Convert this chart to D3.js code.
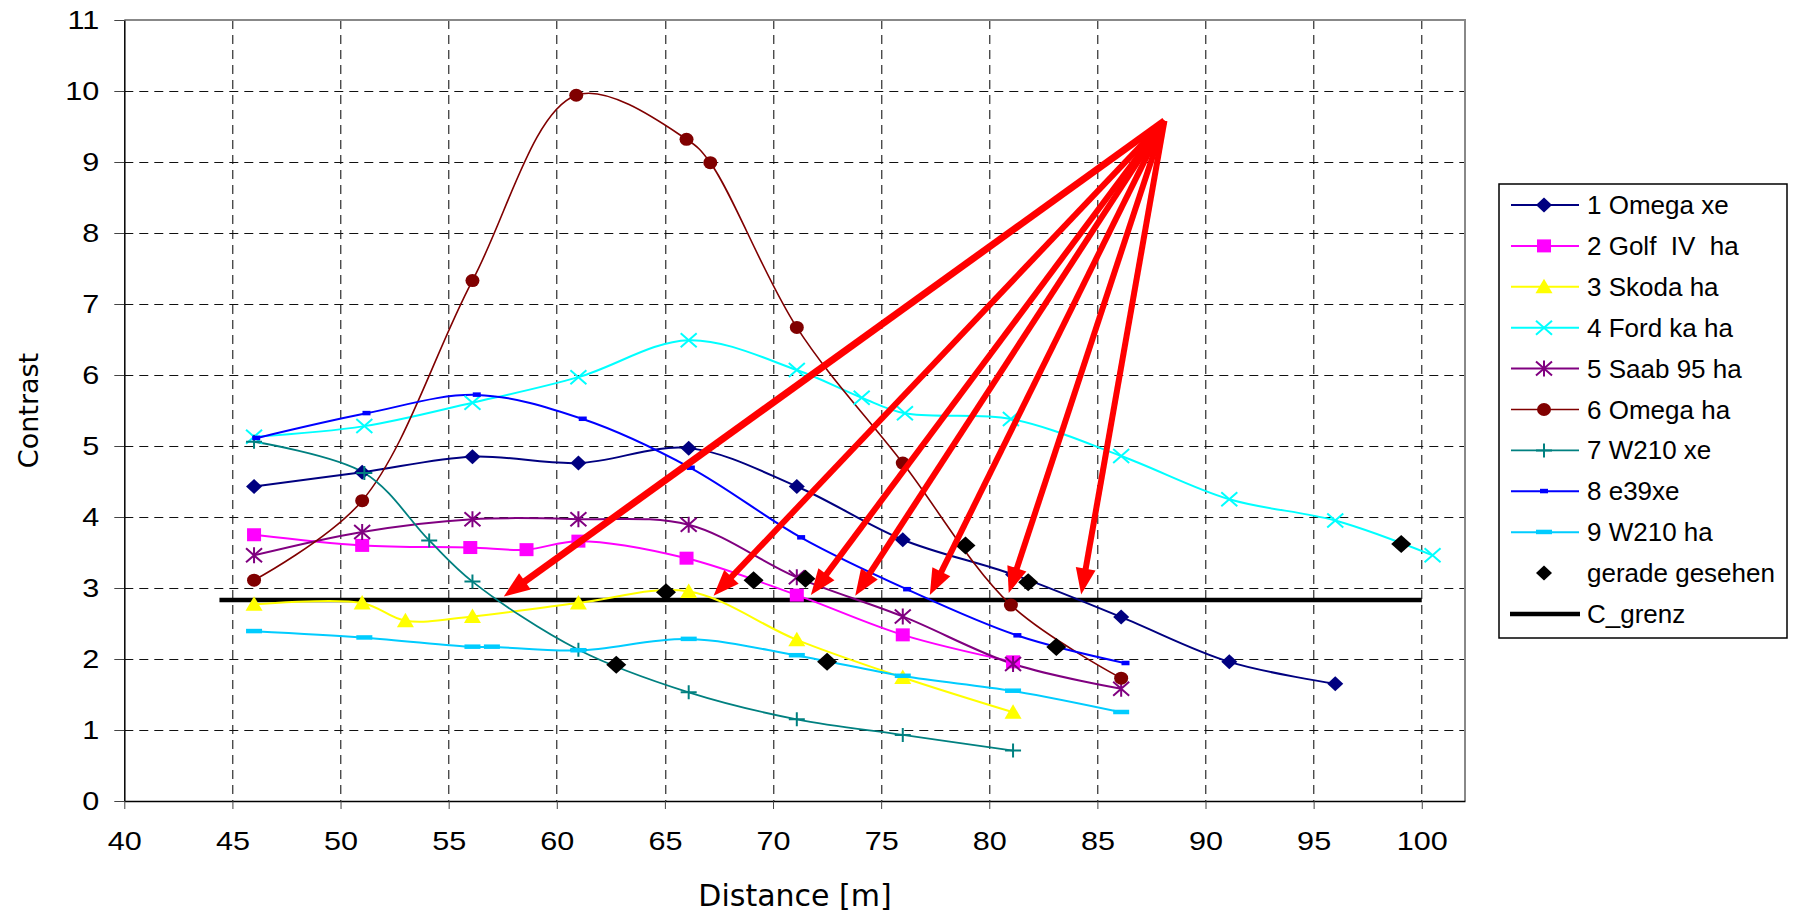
<!DOCTYPE html>
<html>
<head>
  <meta charset="utf-8">
  <title>Contrast vs Distance</title>
  <style>
    body { margin: 0; background: #fff; }
    text { font-family: "Liberation Sans", Arial, sans-serif; }
    .title { font-family: "DejaVu Sans", Tahoma, sans-serif; }
  </style>
</head>
<body>
  <div id="chart"></div>

  <script src="https://cdn.jsdelivr.net/npm/d3@7/dist/d3.min.js"></script>
  <script>

    // ---- data: [distance, contrast] ----
    let omegaXe  = [[46.0,4.43],[51.0,4.63],[56.1,4.85],[61.0,4.76],[66.1,4.97],[71.1,4.43],[76.0,3.68],[81.1,3.19],[86.1,2.59],[91.1,1.96],[96.0,1.65]];
    let golfIV   = [[46.0,3.75],[51.0,3.60],[56.0,3.57],[58.6,3.54],[61.0,3.66],[66.0,3.42],[71.1,2.90],[76.0,2.34],[81.1,1.96]];
    let skoda    = [[46.0,2.77],[51.0,2.79],[53.0,2.54],[56.1,2.60],[61.0,2.79],[66.1,2.95],[71.1,2.27],[76.0,1.74],[81.1,1.25]];
    let fordKa   = [[46.0,5.13],[51.1,5.28],[56.1,5.61],[61.0,5.97],[66.1,6.49],[71.1,6.07],[74.1,5.68],[76.1,5.46],[81.0,5.38],[86.1,4.86],[91.1,4.25],[96.0,3.95],[100.5,3.46]];
    let saab95   = [[46.0,3.46],[51.0,3.79],[56.1,3.97],[61.0,3.97],[66.1,3.89],[71.1,3.15],[76.0,2.60],[81.1,1.93],[86.1,1.58]];
    let omegaHa  = [[46.0,3.11],[51.0,4.23],[56.1,7.33],[60.9,9.94],[66.0,9.32],[67.1,8.99],[71.1,6.67],[76.0,4.76],[81.0,2.76],[86.1,1.73]];
    let w210xe   = [[46.0,5.06],[51.1,4.62],[54.1,3.67],[56.1,3.09],[61.0,2.13],[66.1,1.53],[71.1,1.15],[76.0,0.93],[81.1,0.71]];
    let e39xe    = [[46.1,5.11],[51.2,5.46],[56.3,5.72],[61.2,5.38],[66.2,4.69],[71.3,3.71],[76.2,2.98],[81.3,2.33],[86.3,1.94]];
    let w210ha   = [[46.0,2.39],[51.1,2.30],[56.1,2.17],[57.0,2.17],[61.0,2.12],[66.1,2.28],[71.1,2.05],[76.0,1.76],[81.1,1.55],[86.1,1.25]];
    let geradeGesehen = [[62.75,1.92],[65.05,2.94],[69.1,3.11],[71.5,3.13],[72.5,1.96],[78.9,3.60],[81.8,3.08],[83.1,2.17],[99.05,3.62]];
    let cGrenz   = [[44.4,2.83],[100.0,2.83]];

    // red annotation arrows: common start, tips on C_grenz
    let arrowStart = [88.1, 9.58];
    let arrowTips  = [[57.55,2.88],[67.25,2.89],[71.75,2.90],[73.8,2.89],[77.25,2.90],[80.9,2.93],[84.25,2.91]];

    let seriesNames = ['1 Omega xe','2 Golf  IV  ha','3 Skoda ha','4 Ford ka ha','5 Saab 95 ha','6 Omega ha','7 W210 xe','8 e39xe','9 W210 ha'];
    let seriesData  = [omegaXe, golfIV, skoda, fordKa, saab95, omegaHa, w210xe, e39xe, w210ha];
    let xTicks = d3.range(40, 101, 5);
    let yTicks = d3.range(0, 12, 1);

    // ---- style ----
    let colors  = ['#000080','#ff00ff','#ffff00','#00ffff','#800080','#800000','#008080','#0000ff','#00ccff'];
    let markers = ['diamond','square','triangle','cross','star','circle','plus','dashS','dashL'];
    let widths  = [2, 2, 2, 2, 2, 1.6, 1.8, 2, 2];

    function translate(x, y) {
      return 'translate(' + x + ',' + y + ')';
    }

    let svgWidth = 1793;
    let svgHeight = 912;
    let margin = {top: 20, left: 124.3};
    let width = 1465 - margin.left;
    let height = 801 - margin.top;

    let root = d3.select('#chart')
      .append('svg')
        .attr('width', svgWidth)
        .attr('height', svgHeight);

    root.append('rect').attr('width', svgWidth).attr('height', svgHeight).attr('fill', '#fff');

    let svg = root.append('g').attr('transform', translate(margin.left, margin.top));

    let x = d3.scaleLinear().domain([40, 102]).range([0, width]);
    let y = d3.scaleLinear().domain([0, 11]).range([height, 0]);

    // grid (dashed)
    svg.append('g')
      .selectAll('line')
      .data(xTicks.filter(d => d > 40))
      .enter().append('line')
        .attr('x1', d => Math.round(x(d)) + 0.5).attr('x2', d => Math.round(x(d)) + 0.5)
        .attr('y1', 0).attr('y2', height)
        .attr('stroke', '#000').attr('stroke-width', 1)
        .attr('stroke-dasharray', '9,6');

    svg.append('g')
      .selectAll('line')
      .data(yTicks.filter(d => d > 0 && d < 11))
      .enter().append('line')
        .attr('x1', 0).attr('x2', width)
        .attr('y1', d => Math.round(y(d)) + 0.5).attr('y2', d => Math.round(y(d)) + 0.5)
        .attr('stroke', '#111').attr('stroke-width', 1)
        .attr('stroke-dasharray', '9,6');

    // frame top/right
    svg.append('path')
      .attr('d', 'M0,0H' + width + 'V' + height)
      .attr('fill', 'none').attr('stroke', '#888').attr('stroke-width', 2);

    // axes
    let stretch = 1.2;
    let yAxis = d3.axisLeft(y).tickValues(yTicks).tickSize(10).tickSizeOuter(0).tickPadding(11);
    let gy = svg.append('g').call(yAxis);
    gy.select('.domain').attr('stroke', '#000').attr('stroke-width', 1.5);
    gy.selectAll('.tick line').attr('stroke', '#444');
    gy.selectAll('text')
      .attr('x', -25 / stretch)
      .attr('transform', 'scale(' + stretch + ',1)')
      .style('font-size', '25.5px')
      .attr('fill', '#000');

    let xAxis = d3.axisBottom(x).tickValues(xTicks).tickSize(8).tickSizeOuter(0).tickPadding(23);
    let gx = svg.append('g').attr('transform', translate(0, height)).call(xAxis);
    gx.select('.domain').attr('stroke', '#000').attr('stroke-width', 1.5);
    gx.selectAll('.tick line').attr('stroke', '#444');
    gx.selectAll('text')
      .attr('transform', 'scale(' + stretch + ',1)')
      .style('font-size', '25.5px')
      .attr('fill', '#000');

    // axis titles
    root.append('text')
      .attr('class', 'title')
      .attr('transform', translate(38, 410.5) + ' rotate(-90)')
      .style('text-anchor', 'middle')
      .style('font-size', '27px')
      .text('Contrast');

    root.append('text')
      .attr('class', 'title')
      .attr('x', 795).attr('y', 906)
      .style('text-anchor', 'middle')
      .style('font-size', '30px')
      .text('Distance [m]');

    // marker drawing
    function drawMarker(g, type, color) {
      if (type === 'diamond') {
        g.append('path').attr('d', 'M0,-7.5L8,0L0,7.5L-8,0Z').attr('fill', color);
      } else if (type === 'bigDiamond') {
        g.append('path').attr('d', 'M0,-9L10,0L0,9L-10,0Z').attr('fill', color);
      } else if (type === 'square') {
        g.append('rect').attr('x', -7).attr('y', -6.5).attr('width', 14).attr('height', 13).attr('fill', color);
      } else if (type === 'triangle') {
        g.append('path').attr('d', 'M0,-8L8.5,6.5L-8.5,6.5Z').attr('fill', color);
      } else if (type === 'circle') {
        g.append('ellipse').attr('rx', 7).attr('ry', 6.5).attr('fill', color);
      } else if (type === 'cross') {
        g.append('path').attr('d', 'M-8,-7L8,7M-8,7L8,-7').attr('stroke', color).attr('stroke-width', 2);
      } else if (type === 'star') {
        g.append('path').attr('d', 'M-8,-7L8,7M-8,7L8,-7M0,-8V8').attr('stroke', color).attr('stroke-width', 2);
      } else if (type === 'plus') {
        g.append('path').attr('d', 'M-8,0H8M0,-7V7').attr('stroke', color).attr('stroke-width', 2);
      } else if (type === 'dashS') {
        g.append('rect').attr('x', -4).attr('y', -2.5).attr('width', 8).attr('height', 4.5).attr('fill', color);
      } else if (type === 'dashL') {
        g.append('rect').attr('x', -8).attr('y', -2.5).attr('width', 16).attr('height', 4.5).attr('fill', color);
      }
    }

    let line = d3.line()
      .x(d => x(d[0]))
      .y(d => y(d[1]))
      .curve(d3.curveCatmullRom.alpha(0.5));

    // C_grenz
    svg.append('path')
      .datum(cGrenz)
      .attr('d', d3.line().x(d => x(d[0])).y(d => y(d[1])))
      .attr('stroke', '#000').attr('stroke-width', 4.5).attr('fill', 'none');

    // series lines + markers
    seriesData.forEach((data, i) => {
      svg.append('path')
        .datum(data)
        .attr('d', line)
        .attr('fill', 'none')
        .attr('stroke', colors[i])
        .attr('stroke-width', widths[i]);
    });
    seriesData.forEach((data, i) => {
      data.forEach(d => {
        let g = svg.append('g').attr('transform', translate(x(d[0]), y(d[1])));
        drawMarker(g, markers[i], colors[i]);
      });
    });

    // gerade gesehen
    geradeGesehen.forEach(d => {
      let g = svg.append('g').attr('transform', translate(x(d[0]), y(d[1])));
      drawMarker(g, 'bigDiamond', '#000');
    });

    // red arrows
    arrowTips.forEach((t, i) => {
      let x0 = x(arrowStart[0]), y0 = y(arrowStart[1]);
      let x1 = x(t[0]), y1 = y(t[1]);
      let dx = x1 - x0, dy = y1 - y0;
      let len = Math.hypot(dx, dy);
      let ux = dx / len, uy = dy / len;
      let hl = 26, hw = 10;
      let bx = x1 - ux * hl, by = y1 - uy * hl;
      svg.append('line')
        .attr('x1', x0).attr('y1', y0).attr('x2', bx + ux * 2).attr('y2', by + uy * 2)
        .attr('stroke', '#ff0000').attr('stroke-width', i === 0 ? 7 : 6);
      svg.append('path')
        .attr('d', 'M' + x1 + ',' + y1 + 'L' + (bx - uy * hw) + ',' + (by + ux * hw) + 'L' + (bx + uy * hw) + ',' + (by - ux * hw) + 'Z')
        .attr('fill', '#ff0000');
    });

    // legend
    let legendX = 1499, legendY = 184;
    root.append('rect')
      .attr('x', legendX).attr('y', legendY)
      .attr('width', 288).attr('height', 454)
      .attr('fill', '#fff').attr('stroke', '#000').attr('stroke-width', 1.5);

    let legendNames = seriesNames.concat(['gerade gesehen', 'C_grenz']);
    let legend = root.selectAll('.legend')
      .data(legendNames)
      .enter()
      .append('g')
        .attr('class', 'legend')
        .attr('transform', (d, i) => translate(legendX, 205 + i * 40.9));

    legend.each(function (d, i) {
      let g = d3.select(this);
      if (i < 9) {
        g.append('line').attr('x1', 12).attr('x2', 80).attr('y1', 0).attr('y2', 0)
          .attr('stroke', colors[i]).attr('stroke-width', widths[i]);
        drawMarker(g.append('g').attr('transform', translate(45, 0)), markers[i], colors[i]);
      } else if (i === 9) {
        drawMarker(g.append('g').attr('transform', translate(45, 0)), 'diamond', '#000');
      } else {
        g.append('line').attr('x1', 11).attr('x2', 81).attr('y1', 0).attr('y2', 0)
          .attr('stroke', '#000').attr('stroke-width', 4.5);
      }
      g.append('text')
        .attr('x', 88).attr('y', 9)
        .style('font-size', '26px')
        .style('white-space', 'pre')
        .text(d);
    });

  </script>
</body>
</html>
